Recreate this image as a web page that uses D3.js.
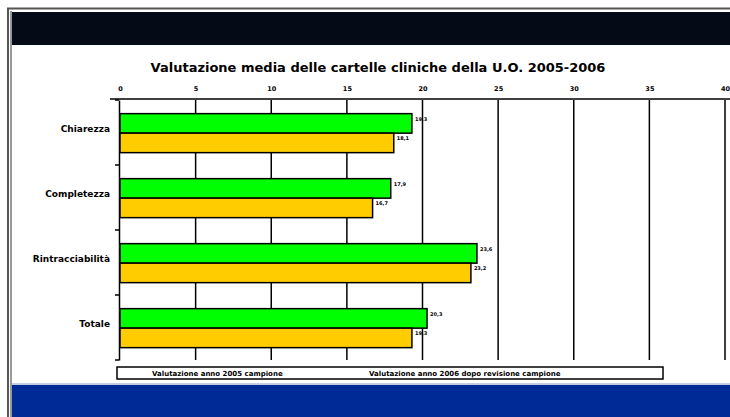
<!DOCTYPE html>
<html>
<head>
<meta charset="utf-8">
<script src="https://cdn.jsdelivr.net/npm/d3@7"></script>
<style>
  html, body { margin: 0; padding: 0; background: #fff; }
  svg { display: block; }
</style>
</head>
<body>
<svg id="chart" width="730" height="417"></svg>
<script>
// Categories and the two series of average scores
const categories = ["Chiarezza", "Completezza", "Rintracciabilità", "Totale"];
const seriesNames = ["Valutazione anno 2005 campione", "Valutazione anno 2006 dopo revisione campione"];
const series2005 = [19.3, 17.9, 23.6, 20.3];
const series2006 = [18.1, 16.7, 23.2, 19.3];
const tickValues = [0, 5, 10, 15, 20, 25, 30, 35, 40];
const colors = ["#00ff00", "#ffcc00"];

const FONT = "'DejaVu Sans', Verdana, sans-serif";
const svg = d3.select("#chart");
const W = 730, H = 417;

// page frame
svg.append("rect").attr("x", 0).attr("y", 0).attr("width", W).attr("height", H).attr("fill", "#fff");
svg.append("line").attr("x1", 7).attr("x2", W).attr("y1", 8.5).attr("y2", 8.5)
  .attr("stroke", "#555").attr("stroke-width", 2);
svg.append("line").attr("x1", 8).attr("x2", 8).attr("y1", 8).attr("y2", H)
  .attr("stroke", "#555").attr("stroke-width", 2);
svg.append("line").attr("x1", 11).attr("x2", 11).attr("y1", 11).attr("y2", H)
  .attr("stroke", "#333").attr("stroke-width", 1);
// dark header band
svg.append("rect").attr("x", 12).attr("y", 12).attr("width", W - 12).attr("height", 33)
  .attr("fill", "#040a16");
// blue footer band
svg.append("line").attr("x1", 12).attr("x2", W).attr("y1", 384).attr("y2", 384)
  .attr("stroke", "#8a9ac8").attr("stroke-width", 1);
svg.append("rect").attr("x", 12).attr("y", 385).attr("width", W - 12).attr("height", H - 385)
  .attr("fill", "#002a96");

// title
svg.append("text").attr("x", 378).attr("y", 72).attr("text-anchor", "middle")
  .attr("font-family", FONT).attr("font-weight", "bold")
  .attr("font-size", 13).attr("fill", "#000")
  .text("Valutazione media delle cartelle cliniche della U.O. 2005-2006");

// scales
const plot = { left: 120, right: 725, top: 100, bottom: 360 };
const x = d3.scaleLinear().domain([0, 40]).range([plot.left, plot.right]);
const y = d3.scaleBand().domain(categories).range([plot.top, plot.bottom]);
const inner = d3.scaleBand().domain([0, 1])
  .range([y.bandwidth() * 0.21, y.bandwidth() * 0.81]);

// top value axis with labels only
const xAxis = svg.append("g").attr("transform", `translate(0,${plot.top})`)
  .call(d3.axisTop(x).tickValues(tickValues).tickSize(0).tickPadding(9)
    .tickFormat(d => d3.format(",")(d)));
xAxis.select(".domain").remove();
xAxis.selectAll("text").attr("font-family", FONT)
  .attr("font-weight", "bold").attr("font-size", 6.5).attr("fill", "#000");
svg.append("line").attr("x1", 110).attr("x2", W).attr("y1", plot.top - 1).attr("y2", plot.top - 1)
  .attr("stroke", "#000").attr("stroke-width", 1.5);

// vertical gridlines
svg.append("g").selectAll("line").data(tickValues.slice(1)).join("line")
  .attr("x1", d => x(d)).attr("x2", d => x(d))
  .attr("y1", plot.top).attr("y2", plot.bottom)
  .attr("stroke", "#000").attr("stroke-width", 1.5);

// category axis
const yAxis = svg.append("g").attr("transform", `translate(${plot.left - 1},0)`)
  .call(d3.axisLeft(y).tickSize(0).tickPadding(9));
yAxis.select(".domain").attr("stroke", "#000").attr("stroke-width", 1.5);
yAxis.selectAll("text").attr("font-family", FONT)
  .attr("font-weight", "bold").attr("font-size", 9).attr("fill", "#000")
  .attr("dy", "-0.1em");
// boundary ticks between categories
const bounds = categories.map(c => y(c)).concat([plot.bottom]);
svg.append("g").selectAll("line").data(bounds).join("line")
  .attr("x1", plot.left - 5).attr("x2", plot.left - 1)
  .attr("y1", d => d).attr("y2", d => d)
  .attr("stroke", "#000").attr("stroke-width", 1.5);

// bars
const rows = categories.map((c, i) => ({ cat: c, vals: [series2005[i], series2006[i]] }));
const groups = svg.append("g").selectAll("g").data(rows).join("g")
  .attr("transform", d => `translate(0,${y(d.cat)})`);
groups.selectAll("rect").data(d => d.vals.map((v, k) => ({ v, k }))).join("rect")
  .attr("x", x(0)).attr("y", d => inner(d.k))
  .attr("width", d => x(d.v) - x(0)).attr("height", inner.bandwidth())
  .attr("fill", d => colors[d.k]).attr("stroke", "#000").attr("stroke-width", 1.5);
groups.selectAll("text").data(d => d.vals.map((v, k) => ({ v, k }))).join("text")
  .attr("x", d => x(d.v) + 3).attr("y", d => inner(d.k) + 7)
  .attr("font-family", FONT).attr("font-weight", "bold")
  .attr("font-size", 5).attr("fill", "#000")
  .text(d => d3.format(",.1f")(d.v).replace(".", ","));

// legend
const lg = svg.append("g");
lg.append("rect").attr("x", 117).attr("y", 367).attr("width", 546).attr("height", 12)
  .attr("fill", "#fff").attr("stroke", "#000").attr("stroke-width", 1.5);
const legendX = [152, 369];
seriesNames.forEach((name, k) => {
  lg.append("text").attr("x", legendX[k]).attr("y", 376)
    .attr("font-family", FONT).attr("font-weight", "bold")
    .attr("font-size", 7).attr("fill", "#000").text(name);
});
</script>
</body>
</html>
